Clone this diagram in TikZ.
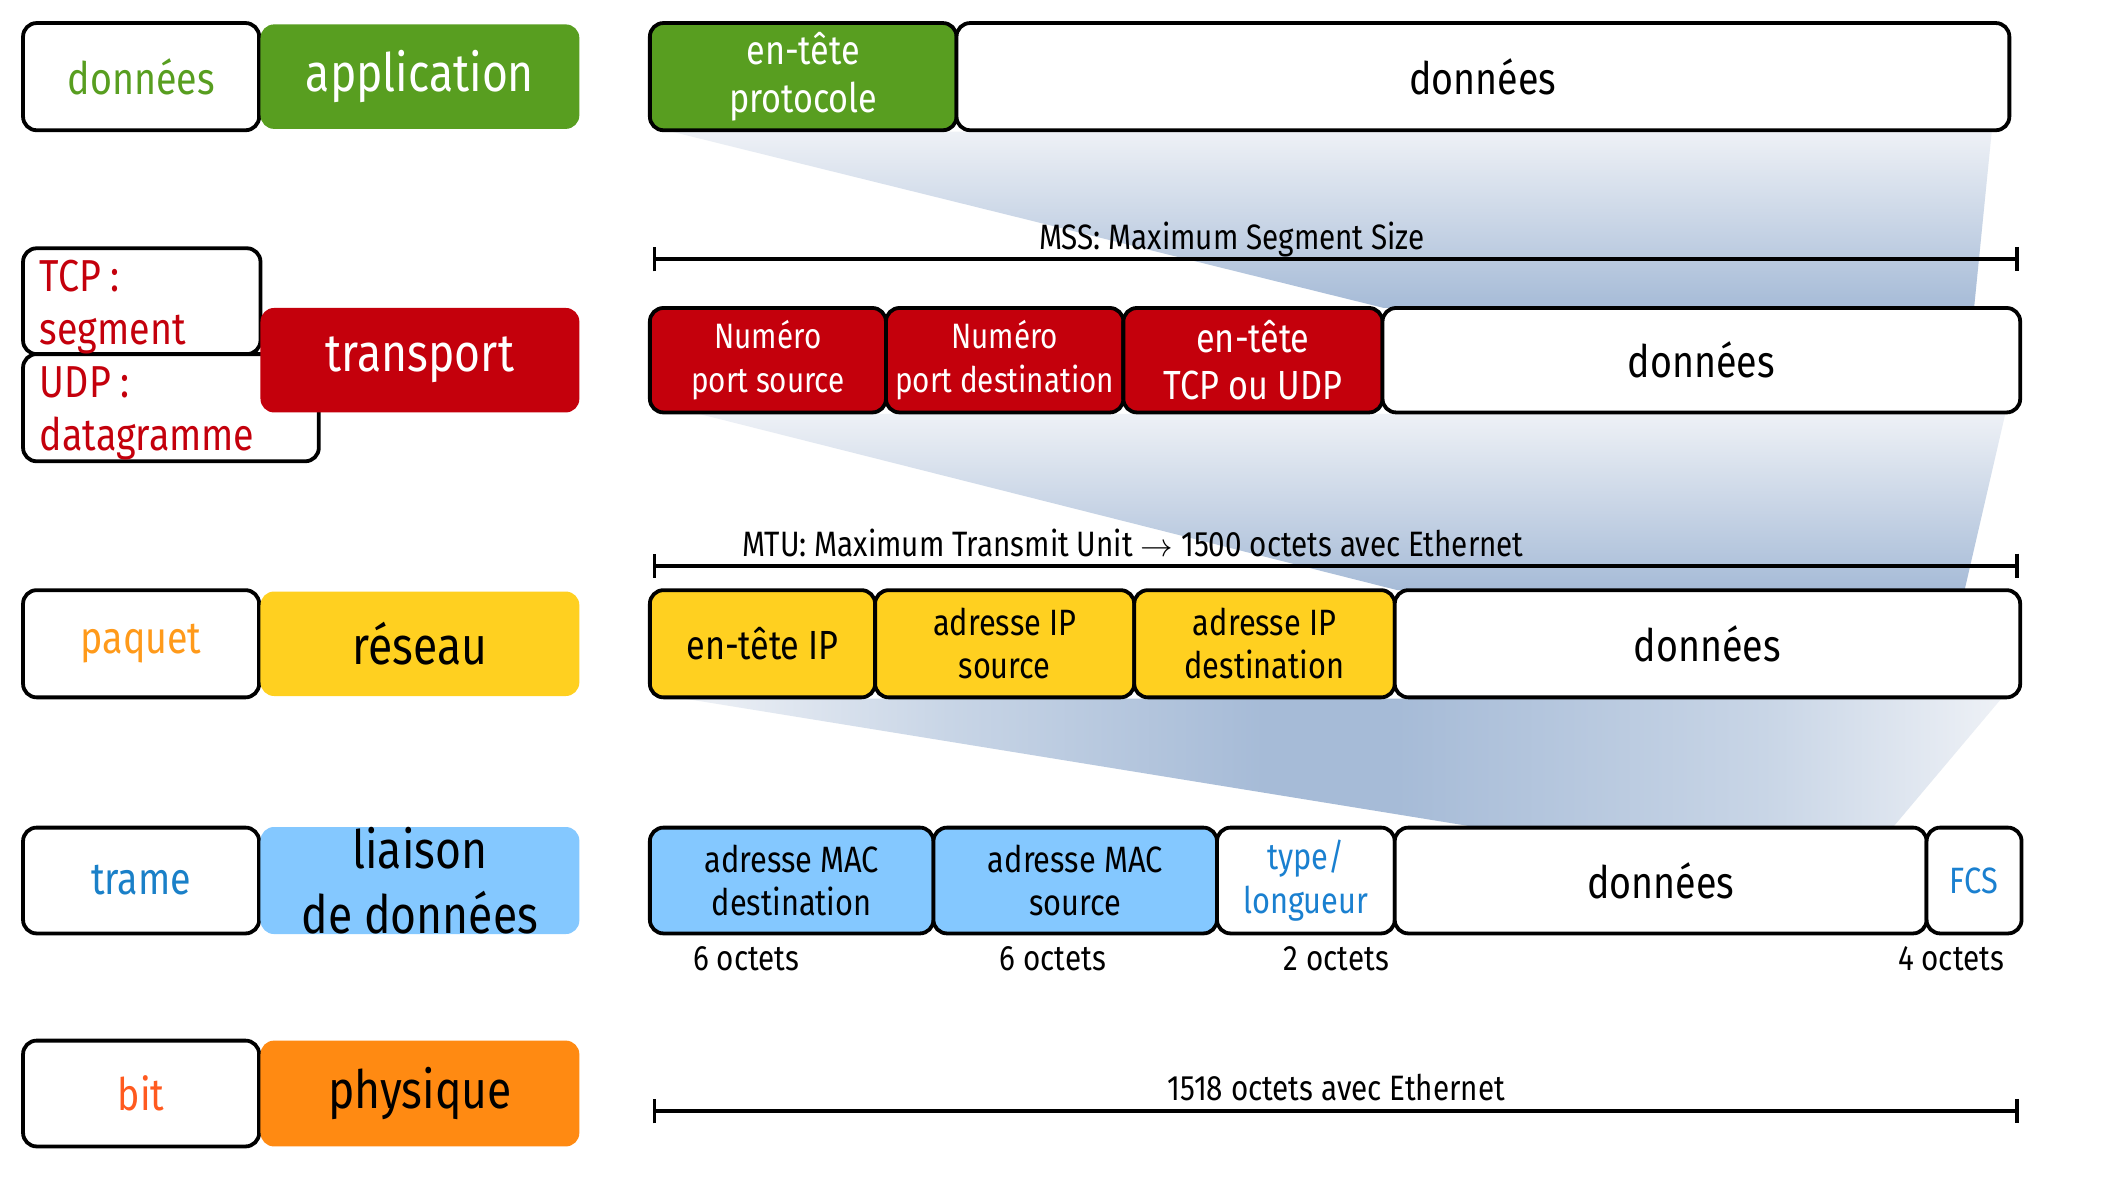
\documentclass[tikz,border=0pt]{standalone}
\usepackage{fontspec}
\setmainfont{Fira Sans}[FakeStretch=0.84]
\usetikzlibrary{arrows.meta}
\definecolor{cgreen}{HTML}{589E20}
\definecolor{cred}{HTML}{C4000C}
\definecolor{cyellow}{HTML}{FFD020}
\definecolor{cltblue}{HTML}{84C8FF}
\definecolor{corange}{HTML}{FF8A12}
\definecolor{cpaquet}{HTML}{FF9A1A}
\definecolor{cbit}{HTML}{FF5A1F}
\definecolor{ctrame}{HTML}{1A80C8}
\definecolor{ctype}{HTML}{1A80D0}
\definecolor{shdark}{HTML}{A6BBD7}
\definecolor{shlight}{HTML}{EEF1F6}
\definecolor{shmid}{HTML}{C8D5E6}
\pgfdeclarehorizontalshading{trapthree}{100bp}{color(0bp)=(shlight); color(25bp)=(shlight); color(35bp)=(shmid); color(47bp)=(shdark); color(52bp)=(shdark); color(66bp)=(shmid); color(75bp)=(shlight); color(100bp)=(shlight)}
\newcommand\bx[7]{\node[#6, minimum width={(#4-#2)*0.5pt}, minimum height={(#5-#3)*0.5pt}] (#1) at ({(#2+#4)/2},{(#3+#5)/2}) {#7};}
\tikzset{
  box/.style={draw=black, line width=1.4pt, rounded corners=5pt, inner sep=0pt, outer sep=0pt, align=center, fill=white},
  layer/.style={rounded corners=5pt, inner sep=0pt, outer sep=0pt, align=center, font=\fontsize{19.5}{24}\selectfont},
  big/.style={font=\fontsize{16.5}{20}\selectfont},
  mid/.style={font=\fontsize{15}{17.5}\selectfont},
  small/.style={font=\fontsize{13.5}{16}\selectfont},
  smaller/.style={font=\fontsize{13}{16.5}\selectfont},
  lbl/.style={font=\fontsize{13}{15}\selectfont, inner sep=0pt},
  dim/.style={line width=1.3pt, {Bar[width=9pt,line width=1.3pt]}-{Bar[width=9pt,line width=1.3pt]}},
}
\begin{document}
\begin{tikzpicture}[x=0.5pt,y=-0.5pt]
\useasboundingbox[fill=white] (0,0) rectangle (1567,870.5);
% shadings
\shade[top color=shlight, bottom color=shdark] (495,97) -- (1468,97) -- (1455,227) -- (1020,227) -- cycle;
\shade[top color=shlight, bottom color=shdark] (515,305) -- (1478,305) -- (1448,435) -- (1030,435) -- cycle;
\shade[shading=trapthree] (505,515) -- (1475,515) -- (1395,610) -- (1090,610) -- cycle;
% left column
\bx{ldon}{17}{17}{191}{96}{box, big, text=cgreen}{données}
\bx{lapp}{192}{18}{427}{95}{layer, fill=cgreen, text=white}{application}
\bx{ltcp}{17}{183}{192}{261}{box}{}
\bx{ludp}{17}{261}{235}{340}{box}{}
\node[big, text=cred, anchor=base west, inner sep=0pt] (ttcp) at (29,215) {TCP :};
\node[big, text=cred, anchor=base west, inner sep=0pt] (tseg) at (29,254) {segment};
\node[big, text=cred, anchor=base west, inner sep=0pt] (tudp) at (29,293) {UDP :};
\node[big, text=cred, anchor=base west, inner sep=0pt] (tdat) at (29,332) {datagramme};
\bx{ltra}{192}{227}{427}{304}{layer, fill=cred, text=white}{transport}
\bx{lpaq}{17}{435}{191}{514}{box, big, text=cpaquet}{paquet}
\bx{lres}{192}{436}{427}{513}{layer, fill=cyellow, text=black}{réseau}
\bx{ltrm}{17}{610}{191}{688}{box, big, text=ctrame}{trame}
\bx{lliai}{192}{610}{427}{688}{layer, fill=cltblue, text=black}{liaison\\de données}
\bx{lbit}{17}{767}{191}{845}{box, big, text=cbit}{bit}
\bx{lphy}{192}{767}{427}{845}{layer, fill=corange, text=black}{physique}
% row 1
\bx{r1a}{479}{17}{705}{96}{box, mid, fill=cgreen, text=white}{en-tête\\protocole}
\bx{r1b}{705}{17}{1481}{96}{box, big}{données}
% MSS
\coordinate (m1) at (481,191);
\coordinate (m2) at (1488,191);
\draw[dim] (m1) -- (m2);
\node[lbl, anchor=base] (mss) at (908,184) {MSS: Maximum Segment Size};
% row 2
\bx{r2a}{479}{227}{653}{304}{box, smaller, fill=cred, text=white}{Numéro\\port source}
\bx{r2b}{653}{227}{828}{304}{box, smaller, fill=cred, text=white}{Numéro\\port destination}
\bx{r2c}{828}{227}{1019}{304}{box, mid, fill=cred, text=white}{en-tête\\TCP ou UDP}
\bx{r2d}{1019}{227}{1489}{304}{box, big}{données}
% MTU
\coordinate (t1) at (481,417);
\coordinate (t2) at (1488,417);
\draw[dim] (t1) -- (t2);
\node[lbl, anchor=base] (mtu) at (835,410) {MTU: Maximum Transmit Unit \(\rightarrow\) 1500 octets avec Ethernet};
% row 3
\bx{r3a}{479}{435}{645}{514}{box, mid, fill=cyellow}{en-tête IP}
\bx{r3b}{645}{435}{836}{514}{box, small, fill=cyellow}{adresse IP\\source}
\bx{r3c}{836}{435}{1028}{514}{box, small, fill=cyellow}{adresse IP\\destination}
\bx{r3d}{1028}{435}{1489}{514}{box, big}{données}
% row 4
\bx{r4a}{479}{610}{688}{688}{box, small, fill=cltblue}{adresse MAC\\destination}
\bx{r4b}{688}{610}{897}{688}{box, small, fill=cltblue}{adresse MAC\\source}
\bx{r4c}{897}{610}{1028}{688}{box, small, text=ctype}{type/\\longueur}
\bx{r4d}{1028}{610}{1420}{688}{box, big}{données}
\bx{r4e}{1420}{610}{1490}{688}{box, small, text=ctype}{FCS}
\node[lbl, anchor=base] (o1) at (550,715) {6 octets};
\node[lbl, anchor=base] (o2) at (776,715) {6 octets};
\node[lbl, anchor=base] (o3) at (985,715) {2 octets};
\node[lbl, anchor=base] (o4) at (1438,715) {4 octets};
% 1518
\coordinate (b1) at (481,819);
\coordinate (b2) at (1488,819);
\draw[dim] (b1) -- (b2);
\node[lbl, anchor=base] (tot) at (985,811) {1518 octets avec Ethernet};
\end{tikzpicture}
\end{document}
